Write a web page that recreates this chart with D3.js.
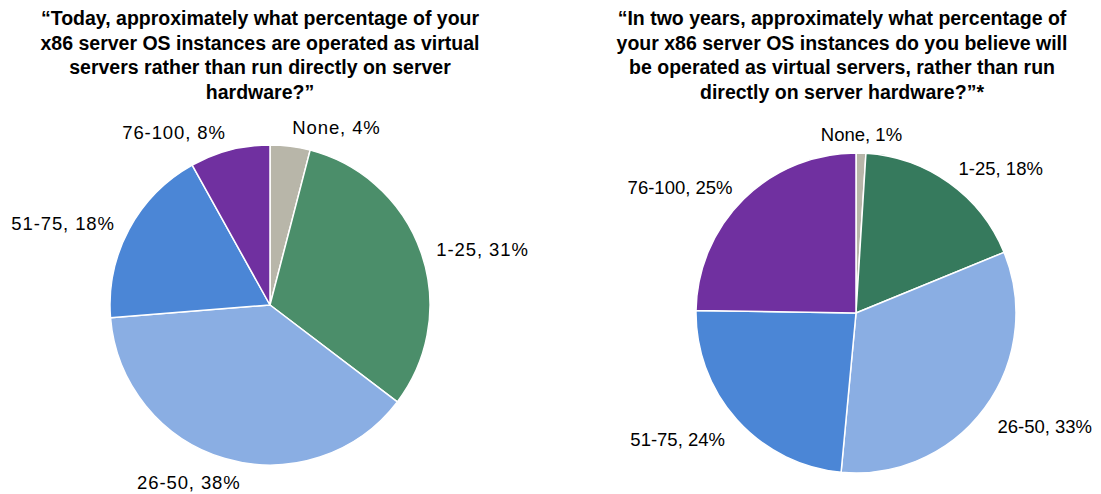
<!DOCTYPE html>
<html>
<head>
<meta charset="utf-8">
<script src="https://cdn.jsdelivr.net/npm/d3@7"></script>
<style>
  html, body { margin: 0; padding: 0; background: #fff; }
  svg { display: block; }
  .title { font-family: "Liberation Sans", Arial, sans-serif; font-weight: bold; font-size: 19.5px; fill: #000; }
  .lbl { font-family: "Liberation Sans", Arial, sans-serif; font-size: 18.5px; fill: #000; }
</style>
</head>
<body>
<svg id="chart" width="1101" height="494"></svg>
<script>
// Survey answer buckets (share of x86 server OS instances run virtualised)
const categories = ["None", "1-25", "26-50", "51-75", "76-100"];
const todayValues = [4, 31, 38, 18, 8];
const twoYearValues = [1, 18, 33, 24, 25];

const todayTitle = [
  "\u201CToday, approximately what percentage of your",
  "x86 server OS instances are operated as virtual",
  "servers rather than run directly on server",
  "hardware?\u201D"
];
const twoYearTitle = [
  "\u201CIn two years, approximately what percentage of",
  "your x86 server OS instances do you believe will",
  "be operated as virtual servers, rather than run",
  "directly on server hardware?\u201D*"
];

// Layout and styling
const panels = [
  {
    title: todayTitle, values: todayValues,
    titleX: 260, cx: 270, cy: 305, r: 160,
    colors: ["#b8b6a9", "#4b8e6a", "#8aaee3", "#4b86d6", "#7030a0"],
    letterSpacing: 0.9,
    // keeps the bottom label inside the canvas
    labelNudge: { "26-50": { angle: 190, dr: -7 } }
  },
  {
    title: twoYearTitle, values: twoYearValues,
    titleX: 842, cx: 856, cy: 313, r: 160,
    colors: ["#b8b6a9", "#367a5d", "#8aaee3", "#4b86d6", "#7030a0"],
    letterSpacing: 0,
    labelNudge: {}
  }
];

const svg = d3.select("#chart");
const pie = d3.pie().sort(null).value(d => d.value);

panels.forEach(p => {
  const g = svg.append("g");

  // Question text
  const t = g.append("text").attr("class", "title").attr("text-anchor", "middle");
  p.title.forEach((line, i) => {
    t.append("tspan").attr("x", p.titleX).attr("y", 25 + i * 24.6).text(line);
  });

  const rows = categories.map((c, i) => ({ category: c, value: p.values[i], color: p.colors[i] }));
  const arcs = pie(rows);
  const arc = d3.arc().innerRadius(0).outerRadius(p.r);

  const pg = g.append("g").attr("transform", `translate(${p.cx},${p.cy})`);
  pg.selectAll("path")
    .data(arcs)
    .join("path")
    .attr("d", arc)
    .attr("fill", d => d.data.color)
    .attr("stroke", "#fff")
    .attr("stroke-width", 1.5)
    .attr("stroke-linejoin", "round");

  // Outside data labels: "category, value%"
  pg.selectAll("text")
    .data(arcs)
    .join("text")
    .attr("class", "lbl")
    .attr("letter-spacing", p.letterSpacing)
    .each(function (d) {
      let a = (d.startAngle + d.endAngle) / 2;
      let labelR = p.r + 8;
      const nudge = p.labelNudge[d.data.category];
      if (nudge) {
        a = nudge.angle * Math.PI / 180;
        labelR += nudge.dr;
      }
      const s = Math.sin(a), c = Math.cos(a);
      const x = labelR * s + 8 * s;
      const y = -labelR * c + 11 - 15 * c;
      const anchor = s > 0.1 ? "start" : (s < -0.1 ? "end" : "middle");
      d3.select(this)
        .attr("x", x)
        .attr("y", y)
        .attr("text-anchor", anchor)
        .text(`${d.data.category}, ${d.data.value}%`);
    });
});
</script>
</body>
</html>
